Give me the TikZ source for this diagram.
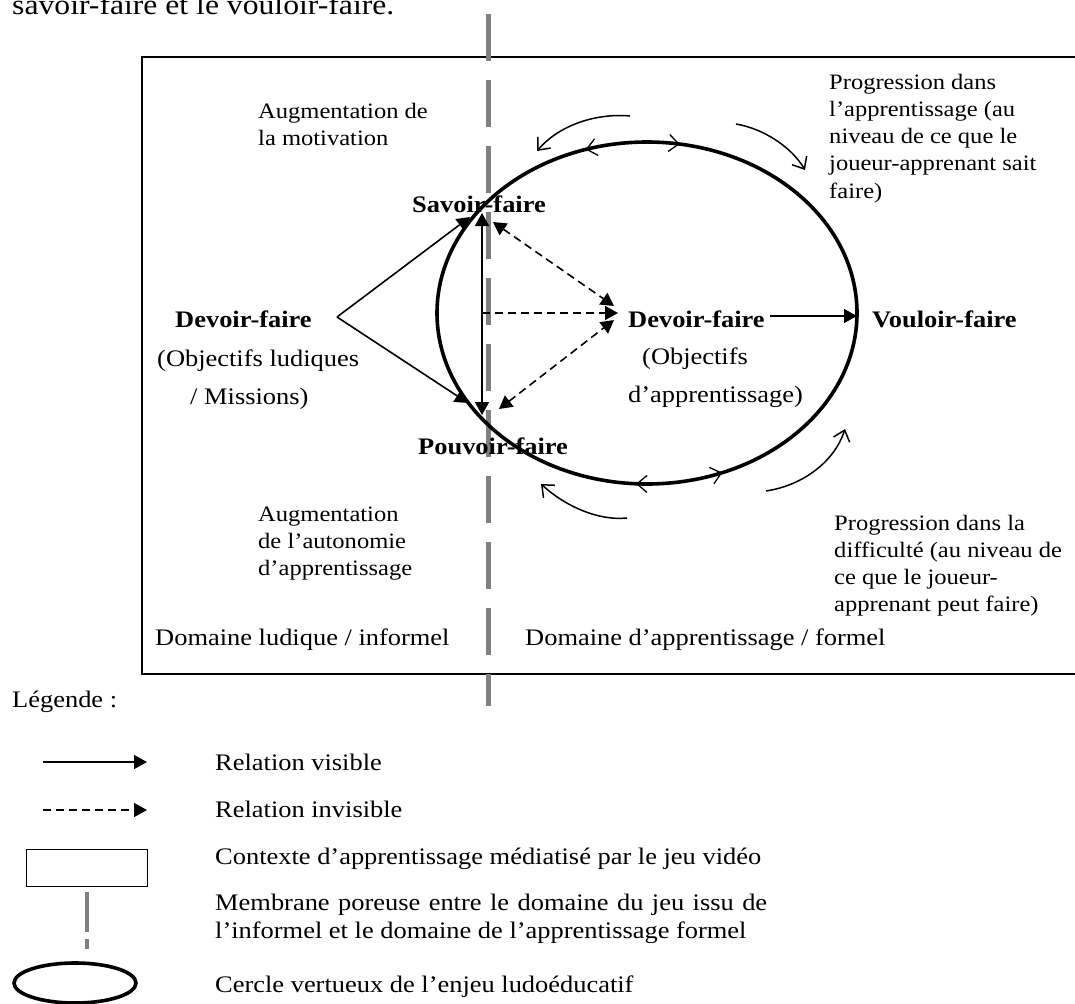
\documentclass[tikz,border=0pt]{standalone}
\usepackage{fontspec}
\setmainfont{Liberation Serif}
\usetikzlibrary{arrows.meta,calc}
\begin{document}
\begin{tikzpicture}[x=1pt,y=-1pt,
  txt/.style={inner sep=0pt, anchor=base west, xscale=1.115, font=\fontsize{23.7}{27}\selectfont},
  btxt/.style={txt, font=\fontsize{23.7}{27}\selectfont\bfseries},
  stxt/.style={txt, font=\fontsize{22}{27}\selectfont},
  doctxt/.style={txt, font=\fontsize{28.4}{32}\selectfont},
  rel/.style={line width=1.6pt, -{Triangle[length=13pt,width=14pt]}},
  relboth/.style={line width=1.6pt, {Triangle[length=13pt,width=14pt]}-{Triangle[length=13pt,width=14pt]}},
  invis/.style={rel, dash pattern=on 8pt off 5pt},
  invisboth/.style={relboth, dash pattern=on 8pt off 5pt},
  frame/.style={line width=2.6pt},
  membrane/.style={line width=5pt, draw=black!50, dash pattern=on 47pt off 19pt},
  cercle/.style={line width=3.6pt},
  chev/.style={line width=1.3pt, -{Straight Barb[length=10pt,width=17pt]}},
  turn/.style={line width=1.5pt, -{Straight Barb[length=10pt,width=17pt]}},
]
\useasboundingbox (0,0) rectangle (1075,1003);

% document text above the figure
\node[doctxt] (intro) at (12,15) {savoir-faire et le vouloir-faire.};

% frame
\coordinate (frTL) at (142,57);
\coordinate (frBR) at (1095,674);
\draw[frame] (frTL) rectangle (frBR);

% membrane
\coordinate (mtop) at (488,14);
\coordinate (mbot) at (488,706);
\draw[membrane] (mtop) -- (mbot);

% virtuous circle
\coordinate (c) at (647,313);
\draw[cercle] (c) ellipse [x radius=210, y radius=171];
\draw[chev] ($(c)+(-103:210 and 171)$) -- ($(c)+(-107:210 and 171)$);
\draw[chev] ($(c)+(-85:210 and 171)$) -- ($(c)+(-81:210 and 171)$);
\draw[chev] ($(c)+(-271:210 and 171)$) -- ($(c)+(-267:210 and 171)$);
\draw[chev] ($(c)+(-287:210 and 171)$) -- ($(c)+(-291:210 and 171)$);

% curved progression arrows
\coordinate (tla) at (630,116); \coordinate (tlb) at (537,151);
\coordinate (tra) at (736,124); \coordinate (trb) at (805,170);
\coordinate (bla) at (627,518); \coordinate (blb) at (541,484);
\coordinate (bra) at (766,491); \coordinate (brb) at (845,429);
\draw[turn] (tla) .. controls (598,113) and (560,124) .. (tlb);
\draw[turn] (tra) .. controls (765,129) and (792,148) .. (trb);
\draw[turn] (bla) .. controls (598,521) and (565,506) .. (blb);
\draw[turn] (bra) .. controls (805,485) and (835,460) .. (brb);

% labels
\node[btxt] (savoir) at (412,212) {Savoir-faire};
\node[btxt] (pouvoir) at (418,454) {Pouvoir-faire};
\node[btxt] (devL) at (175,327) {Devoir-faire};
\node[txt] (objL1) at (157,366) {(Objectifs ludiques};
\node[txt] (objL2) at (190,404) {/ Missions)};
\node[btxt] (devR) at (628,327) {Devoir-faire};
\node[txt] (objR1) at (642,364) {(Objectifs};
\node[txt] (objR2) at (628,402) {d’apprentissage)};
\node[btxt] (vouloir) at (872,327) {Vouloir-faire};

\node[stxt] (aug1a) at (258,119) {Augmentation de};
\node[stxt] (aug1b) at (258,146) {la motivation};
\node[stxt] (aug2a) at (258,521) {Augmentation};
\node[stxt] (aug2b) at (258,548) {de l’autonomie};
\node[stxt] (aug2c) at (258,575) {d’apprentissage};

\node[stxt] (pa1) at (829,90) {Progression dans};
\node[stxt] (pa2) at (829,117) {l’apprentissage (au};
\node[stxt] (pa3) at (829,144) {niveau de ce que le};
\node[stxt] (pa4) at (829,171) {joueur-apprenant sait};
\node[stxt] (pa5) at (829,198) {faire)};

\node[stxt] (pd1) at (834,530) {Progression dans la};
\node[stxt] (pd2) at (834,557) {difficulté (au niveau de};
\node[stxt] (pd3) at (834,584) {ce que le joueur-};
\node[stxt] (pd4) at (834,611) {apprenant peut faire)};

\node[txt] (domL) at (155,645) {Domaine ludique / informel};
\node[txt] (domR) at (525,645) {Domaine d’apprentissage / formel};

% relations
\coordinate (apex) at (337,317);
\coordinate (sfL) at (470,217);
\coordinate (pfL) at (468,403);
\draw[rel] (apex) -- (sfL);
\draw[rel] (apex) -- (pfL);
\coordinate (sfT) at (482,213);
\coordinate (pfT) at (482,415);
\draw[relboth] (pfT) -- (sfT);
\coordinate (mid) at (482,313);
\coordinate (dvH) at (618,313);
\draw[invis] (mid) -- (dvH);
\coordinate (sfD) at (493,222);
\coordinate (dvU) at (614,306);
\draw[invisboth] (sfD) -- (dvU);
\coordinate (pfD) at (499,409);
\coordinate (dvL) at (614,320);
\draw[invisboth] (pfD) -- (dvL);
\coordinate (dvO) at (770,316);
\coordinate (vfI) at (857,316);
\draw[rel] (dvO) -- (vfI);

% legend
\node[txt] (leg) at (12,707) {Légende :};
\coordinate (lv1) at (43,762); \coordinate (lv2) at (147,762);
\draw[rel] (lv1) -- (lv2);
\node[txt] (lvt) at (215,770) {Relation visible};
\coordinate (li1) at (43,810); \coordinate (li2) at (147,810);
\draw[invis] (li1) -- (li2);
\node[txt] (lit) at (215,817) {Relation invisible};
\node[draw, line width=1.4pt, minimum width=121pt, minimum height=37pt, inner sep=0pt, anchor=north west] (lbox) at (26,849) {};
\node[txt] (lbt) at (215,864) {Contexte d’apprentissage médiatisé par le jeu vidéo};
\coordinate (lm1) at (87,892); \coordinate (lm2) at (87,949);
\draw[line width=4pt, draw=black!50, dash pattern=on 40pt off 7pt] (lm1) -- (lm2);
\node[txt] (lmt1) at (215,910) {\makebox[495pt][s]{Membrane poreuse entre le domaine du jeu issu de}};
\node[txt] (lmt2) at (215,938) {l’informel et le domaine de l’apprentissage formel};
\coordinate (lc) at (75,983);
\draw[cercle] (lc) ellipse [x radius=61, y radius=20];
\node[txt] (lct) at (215,992) {Cercle vertueux de l’enjeu ludoéducatif};
\end{tikzpicture}
\end{document}
